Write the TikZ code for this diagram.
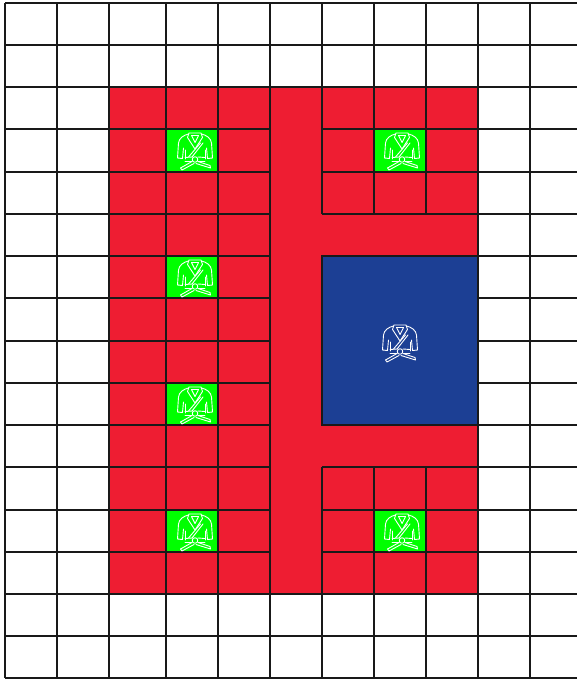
\documentclass[tikz,border=0pt]{standalone}
\definecolor{wallred}{HTML}{EE1D32}
\definecolor{seatgreen}{HTML}{00FF00}
\definecolor{matblue}{HTML}{1C3F94}
\tikzset{
  gridline/.style={draw=black!90,line width=1.7pt},
  giline/.style={draw=white,line width=0.9pt,line join=round,line cap=round},
  gi/.pic={
    % collar
    \draw[giline] (-6,-18) -- (6,-18) -- (7.5,-13.5) -- (0,-2) -- (-7.5,-13.5) -- cycle;
    \draw[giline] (-3.5,-15.5) -- (3.5,-15.5) -- (0,-8.5) -- cycle;
    % shoulders, sleeves
    \draw[giline] (-6.5,-17) .. controls (-11,-16) and (-16,-13) .. (-16.5,-8) -- (-17.5,7) -- (-12.5,7.5) -- (-11.5,-3);
    \draw[giline] (6.5,-17) .. controls (11,-16) and (16,-13) .. (16.5,-8) -- (17.5,7) -- (12.5,7.5) -- (11.5,-3);
    % lapel band
    \draw[giline] (5.5,-8) -- (-6.5,6);
    \draw[giline] (8,-8) -- (-3,6);
    % jacket sides
    \draw[giline] (-10,-1) -- (-10,8);
    \draw[giline] (10,-1) -- (10,8);
    % belt
    \draw[giline] (-10,6.5) -- (-3,6) (3,6) -- (10,6.5);
    \draw[giline] (-10,10) -- (-3.2,10) (3.2,10) -- (10,10);
    \draw[giline] (0,8.5) circle (2.8);
    % belt ends
    \draw[giline] (-3,10.5) -- (-14.5,17) -- (-13,19) -- (-1,12.5);
    \draw[giline] (3,10.5) -- (15,14.5) -- (15.5,17) -- (1,12.5);
  }
}
\begin{document}
\begin{tikzpicture}[x=1pt,y=-1pt]
\useasboundingbox (0,0) rectangle (577,679);
\fill[white] (0,0) rectangle (577,679);
% wall area
\fill[wallred] (109,87) rectangle (478,594);
% cushions
\foreach \cx/\cy/\cxx/\cyy in {166/129/218/172,166/256/218/298,166/383/218/425,166/510/218/552,374/129/426/172,374/510/426/552}
  \fill[seatgreen] (\cx,\cy) rectangle (\cxx,\cyy);
% centre mat
\fill[matblue] (322,256) rectangle (478,425);
% full-width lines outside the block
\foreach \yy in {3,45,87,594,636,678}
  \draw[gridline] (5,\yy) -- (577,\yy);
\foreach \xx in {5,57,109,478,530}
  \draw[gridline] (\xx,3) -- (\xx,678);
\foreach \xx in {166,218,270,322,374,426} {
  \draw[gridline] (\xx,3) -- (\xx,87);
  \draw[gridline] (\xx,594) -- (\xx,678);
}
% side rows
\foreach \yy in {129,172,214,256,298,341,383,425,467,510,552} {
  \draw[gridline] (5,\yy) -- (109,\yy);
  \draw[gridline] (478,\yy) -- (577,\yy);
  \draw[gridline] (109,\yy) -- (270,\yy);
}
% left block verticals
\foreach \xx in {166,218,270}
  \draw[gridline] (\xx,87) -- (\xx,594);
% right upper and lower blocks
\foreach \yy in {129,172,214,467,510,552}
  \draw[gridline] (322,\yy) -- (478,\yy);
\foreach \xx in {322,374,426} {
  \draw[gridline] (\xx,87) -- (\xx,214);
  \draw[gridline] (\xx,467) -- (\xx,594);
}
% mat border
\draw[gridline] (322,256) rectangle (478,425);
% icons
\foreach \px/\py in {195/151,195/278,195/405,195/532,402/151,402/532}
  \pic at (\px,\py) {gi};
\pic at (400,343) {gi};
\end{tikzpicture}
\end{document}
